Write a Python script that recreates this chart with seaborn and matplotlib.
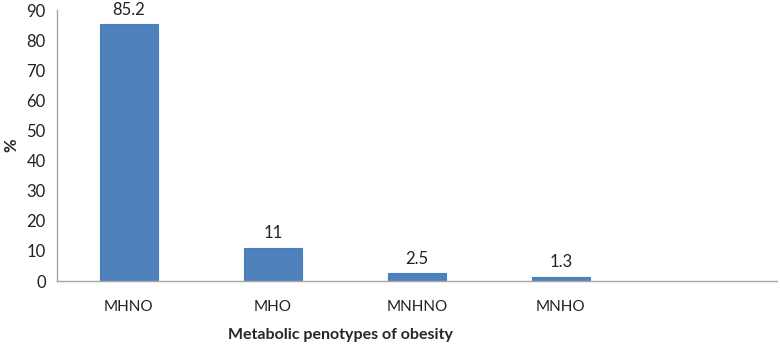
import pandas as pd
import seaborn as sns
import matplotlib.pyplot as plt

phenotypes = ['MHNO', 'MHO', 'MNHNO', 'MNHO']
percent = [85.2, 11, 2.5, 1.3]

df = pd.DataFrame({'Phenotype': phenotypes, 'Percent': percent})

sns.set_style('white')
plt.rcParams['font.family'] = ['Lato', 'DejaVu Sans']

fig = plt.figure(figsize=(7.8, 3.45), dpi=100)
ax = fig.add_axes([0.073, 0.1855, 0.923, 0.7855])

sns.barplot(data=df, x='Phenotype', y='Percent', color='#4F81BD', saturation=1,
            width=0.4, edgecolor='#4A7EBB', linewidth=0.8, ax=ax)

ax.set_xlim(-0.5, 4.5)
ax.set_ylim(0, 90)
ax.set_yticks(range(0, 91, 10))

for c in ax.containers:
    ax.bar_label(c, fmt='%g', padding=5, fontsize=12, color='#222222')

sns.despine(ax=ax)
for s in ['left', 'bottom']:
    ax.spines[s].set_color('#A6A6A6')
    ax.spines[s].set_linewidth(1.0)

ax.tick_params(axis='y', length=5, color='#A6A6A6', labelsize=12, pad=3, labelcolor='#222222')
ax.tick_params(axis='x', length=0, labelsize=11, pad=14, labelcolor='#222222')

ax.set_xlabel('Metabolic penotypes of obesity', fontsize=11.5, fontweight='bold')
ax.xaxis.set_label_coords(0.394, -0.172)
ax.set_ylabel('%', fontsize=12, fontweight='bold')
ax.yaxis.set_label_coords(-0.052, 0.5)

fig.savefig('out.png', dpi=100)
